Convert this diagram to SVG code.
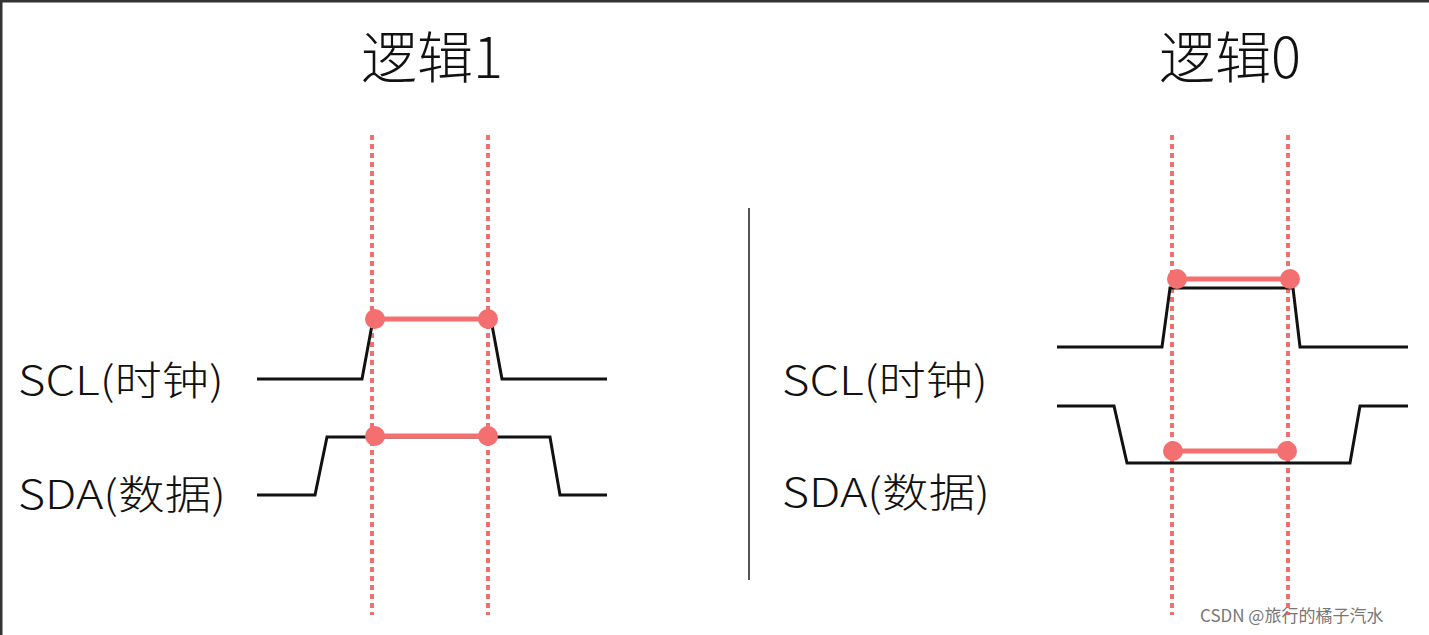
<svg xmlns="http://www.w3.org/2000/svg" width="1429" height="635" viewBox="0 0 1429 635">
<style>
text{font-family:"Noto Sans CJK SC","Noto Sans",sans-serif;fill:#111}
.t{font-size:56px;text-anchor:middle;font-weight:300}
.l{font-size:40px;font-weight:300}
.w{fill:none;stroke:#111;stroke-width:3}
.d{stroke:#f07070;stroke-width:4;stroke-dasharray:5 4}
.r{stroke:#f47070;stroke-width:5}
.c{fill:#f47070}
</style>
<rect width="1429" height="635" fill="#fff"/>
<path d="M1 635V1H1429" fill="none" stroke="#333" stroke-width="3"/>
<g id="title1"><text class="t" x="432" y="78">逻辑1</text></g>
<g id="title0"><text class="t" x="1230" y="78">逻辑0</text></g>
<g id="labels">
<text class="l" x="18" y="395" textLength="206" lengthAdjust="spacingAndGlyphs">SCL(时钟)</text>
<text class="l" x="18" y="509" textLength="208" lengthAdjust="spacingAndGlyphs">SDA(数据)</text>
<text class="l" x="782" y="395" textLength="206" lengthAdjust="spacingAndGlyphs">SCL(时钟)</text>
<text class="l" x="782" y="507" textLength="208" lengthAdjust="spacingAndGlyphs">SDA(数据)</text>
</g>
<line x1="749" y1="208" x2="749" y2="580" stroke="#555" stroke-width="2"/>
<g id="connectors">
<line class="d" x1="372" y1="135" x2="372" y2="615"/>
<line class="d" x1="488" y1="135" x2="488" y2="615"/>
<line class="d" x1="1172" y1="135" x2="1172" y2="615"/>
<line class="d" x1="1288" y1="135" x2="1288" y2="615"/>
<path class="w" d="M257 379H362L372 325M492 325L502 379H607"/>
<path class="w" d="M257 495H315L327 437H550L560 495H607"/>
<path class="w" d="M1057 347H1162L1170 288H1293L1300 347H1408"/>
<path class="w" d="M1057 406H1114L1127 463H1350L1360 406H1408"/>
<line class="r" x1="375" y1="319" x2="488" y2="319"/>
<line class="r" x1="375" y1="436" x2="488" y2="436"/>
<line class="r" x1="1177" y1="279" x2="1290" y2="279"/>
<line class="r" x1="1173" y1="451" x2="1287" y2="451"/>
<circle class="c" cx="375" cy="319" r="10"/><circle class="c" cx="488" cy="319" r="10"/>
<circle class="c" cx="375" cy="436" r="10"/><circle class="c" cx="488" cy="436" r="10"/>
<circle class="c" cx="1177" cy="279" r="10"/><circle class="c" cx="1290" cy="279" r="10"/>
<circle class="c" cx="1173" cy="451" r="10"/><circle class="c" cx="1287" cy="451" r="10"/>
</g>
<text x="1200" y="622" style="font-size:17px;fill:#777">CSDN @旅行的橘子汽水</text>
</svg>
